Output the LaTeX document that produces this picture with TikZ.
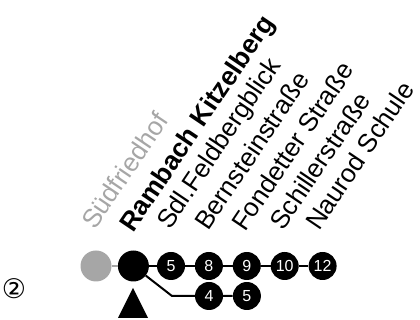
\documentclass[tikz,border=0pt]{standalone}
\usepackage{fontspec}
\setmainfont{Liberation Sans}
\newfontfamily\symfont{DejaVu Sans}
\usetikzlibrary{positioning}
\definecolor{stopGrey}{HTML}{A6A6A6}

\begin{document}
\begin{tikzpicture}[x=1pt, y=1pt,
      node distance=9.5pt,
      bigstop/.style={circle, fill=black, minimum size=31pt, inner sep=0pt},
      oldstop/.style={circle, fill=stopGrey, minimum size=31pt, inner sep=0pt},
      stop/.style={circle, fill=black, text=white, minimum size=28pt, inner sep=0pt,
        font=\fontsize{16}{16}\selectfont},
      lbl/.style={anchor=base west, rotate=56, inner sep=0pt,
        font=\fontsize{26}{26}\selectfont},
      link/.style={line width=2pt}]
    \useasboundingbox (0,0) rectangle (420,320);

    % main line
    \node[oldstop] (sued) at (96,54) {};
    \node[bigstop, right=6pt of sued] (rambach) {};
    \node[stop] (s5) at (171,54) {5};
    \node[stop, right=of s5] (s8) {8};
    \node[stop, right=of s8] (s9) {9};
    \node[stop, right=of s9] (s10) {10};
    \node[stop, right=of s10] (s12) {12};

    % branch
    \node[stop] (b4) at (209,24) {4};
    \node[stop, right=of b4] (b5) {5};
    \coordinate (knee) at (172,24);

    \draw[link, stopGrey] (sued) -- (rambach);
    \draw[link] (rambach) -- (s5) -- (s8) -- (s9) -- (s10) -- (s12);
    \draw[link] (rambach) -- (knee) -- (b4) -- (b5);

    % stop names
    \node[lbl, text=stopGrey] (lSued) at (95,89) {Südfriedhof};
    \node[lbl, font=\fontsize{26.5}{26.5}\selectfont\bfseries] (lRambach) at (133,86) {Rambach Kitzelberg};
    \node[lbl] (lFeld) at (170,89) {Sdl.Feldbergblick};
    \node[lbl] (lBern) at (208,88) {Bernsteinstraße};
    \node[lbl] (lFond) at (245,87) {Fondetter Straße};
    \node[lbl] (lSchi) at (283,88) {Schillerstraße};
    \node[lbl] (lNaur) at (319,88) {Naurod Schule};

    % you are here
    \fill (133,32) -- (148,2) -- (118,2) -- cycle;
    \node[font=\symfont\fontsize{27}{27}\selectfont, inner sep=0pt] (platform) at (14,31) {②};
  \end{tikzpicture}
\end{document}
